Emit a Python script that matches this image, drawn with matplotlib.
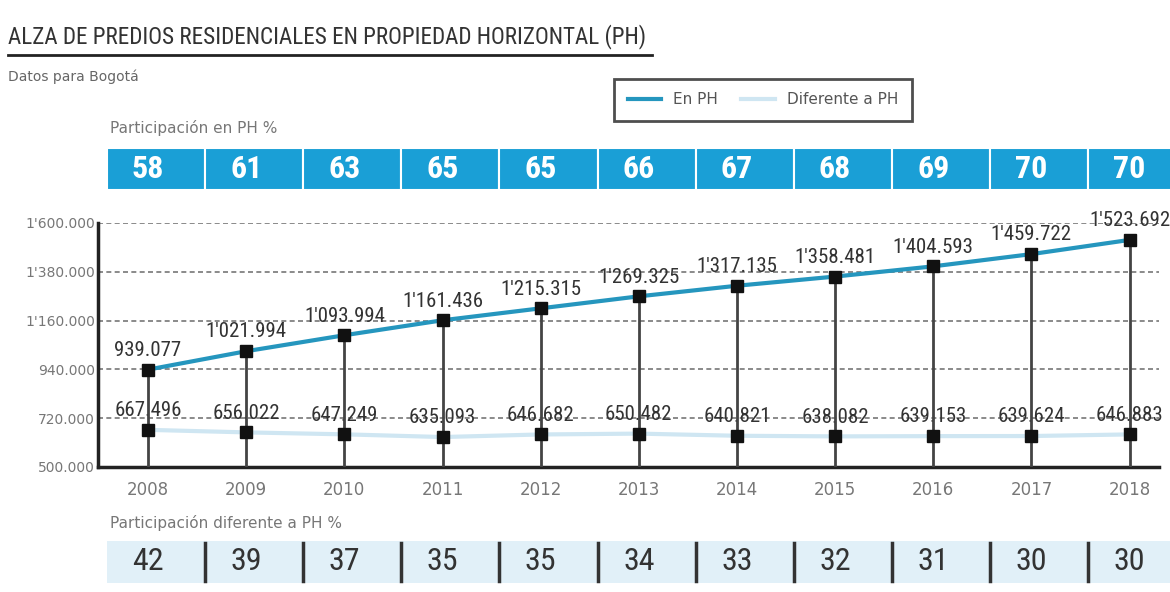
import matplotlib
matplotlib.use('agg')
import matplotlib.pyplot as plt
import matplotlib.transforms as mtransforms
from matplotlib.patches import Rectangle
from matplotlib.lines import Line2D
import numpy as np

years = [2008, 2009, 2010, 2011, 2012, 2013, 2014, 2015, 2016, 2017, 2018]
en_ph = [939077, 1021994, 1093994, 1161436, 1215315, 1269325, 1317135,
         1358481, 1404593, 1459722, 1523692]
dif_ph = [667496, 656022, 647249, 635093, 646682, 650482, 640821,
          638082, 639153, 639624, 646883]
part_ph = [58, 61, 63, 65, 65, 66, 67, 68, 69, 70, 70]
part_dif = [42, 39, 37, 35, 35, 34, 33, 32, 31, 30, 30]
yticks = [500000, 720000, 940000, 1160000, 1380000, 1600000]

NARROW = ['Liberation Sans Narrow', 'Roboto Condensed', 'DejaVu Sans']
BLUE = '#1a9fd6'
LINE_BLUE = '#2596be'
LIGHT = '#cfe6f2'


def fmt(v):
    s = f"{v:,}".replace(',', '.')
    if v >= 1000000:
        i = s.index('.')
        s = s[:i] + "'" + s[i + 1:]
    return s


fig = plt.figure(figsize=(11.7, 5.92), dpi=100)
fig.patch.set_facecolor('white')
ax = fig.add_axes([98 / 1170, 125 / 592, 1061 / 1170, 244 / 592])

ax.set_xlim(2007.49, 2018.3)
ax.set_ylim(500000, 1600000)

for y in yticks[1:]:
    ax.axhline(y, color='#777777', lw=1.2, ls=(0, (3, 2)), zorder=1)

ax.vlines(years, 500000, en_ph, color='#444444', lw=2, zorder=6)
ax.plot(years, dif_ph, color=LIGHT, lw=3, zorder=3)
ax.plot(years, en_ph, color=LINE_BLUE, lw=3, zorder=3)
ax.plot(years, en_ph, 's', color='#111111', ms=9, zorder=7)
ax.plot(years, dif_ph, 's', color='#111111', ms=9, zorder=7)

for x, v in zip(years, en_ph):
    ax.annotate(fmt(v), (x, v), xytext=(0, 7), textcoords='offset points',
                ha='center', va='bottom', fontsize=15, color='#333333',
                family=NARROW, fontstretch='condensed',
                annotation_clip=False, zorder=5)
for x, v in zip(years, dif_ph):
    ax.annotate(fmt(v), (x, v), xytext=(0, 7), textcoords='offset points',
                ha='center', va='bottom', fontsize=15, color='#333333',
                family=NARROW, fontstretch='condensed',
                annotation_clip=False, zorder=5)

for s in ['top', 'right']:
    ax.spines[s].set_visible(False)
ax.spines['left'].set_linewidth(2.5)
ax.spines['bottom'].set_linewidth(2.5)
ax.spines['left'].set_color('#222222')
ax.spines['bottom'].set_color('#222222')

ax.set_yticks(yticks)
ax.set_yticklabels([fmt(v) for v in yticks], fontsize=10, color='#777777')
ax.set_xticks(years)
ax.set_xticklabels([str(y) for y in years], fontsize=12, color='#777777')
ax.tick_params(length=0, pad=10)
ax.tick_params(axis='y', pad=2)

trans = mtransforms.blended_transform_factory(ax.transData, fig.transFigure)
edges = [y - 0.42 for y in years] + [2018.95]
top_y0, top_h = 1 - 190 / 592, 42 / 592
bot_y0, bot_h = 1 - 583 / 592, 42 / 592
for i, x in enumerate(years):
    x0, x1 = edges[i], edges[i + 1]
    fig.add_artist(Rectangle((x0, top_y0), x1 - x0, top_h, transform=trans,
                             facecolor=BLUE, edgecolor='white', lw=1.5))
    fig.text(x, top_y0 + top_h / 2, str(part_ph[i]), transform=trans,
             ha='center', va='center', fontsize=23, fontweight='bold',
             color='white', family=NARROW, fontstretch='condensed')
    fig.add_artist(Rectangle((x0, bot_y0), x1 - x0, bot_h, transform=trans,
                             facecolor='#e1f0f8', edgecolor='none'))
    if i > 0:
        fig.add_artist(Line2D([x0, x0], [bot_y0 + 0.003, bot_y0 + bot_h - 0.003],
                              transform=trans, color='#333333', lw=2.5))
    fig.text(x, bot_y0 + bot_h / 2, str(part_dif[i]), transform=trans,
             ha='center', va='center', fontsize=23, color='#333333',
             family=NARROW, fontstretch='condensed')

fig.text(8 / 1170, 1 - 37 / 592, 'ALZA DE PREDIOS RESIDENCIALES EN PROPIEDAD HORIZONTAL (PH)',
         ha='left', va='center', fontsize=16.7, color='#333333', family=NARROW,
         fontstretch='condensed')
fig.add_artist(Line2D([8 / 1170, 652 / 1170], [1 - 55 / 592, 1 - 55 / 592],
                      transform=fig.transFigure, color='#222222', lw=2))
fig.text(8 / 1170, 1 - 77 / 592, 'Datos para Bogotá', ha='left', va='center',
         fontsize=10, color='#666666')
fig.text(110 / 1170, 1 - 128 / 592, 'Participación en PH %', ha='left',
         va='center', fontsize=11, color='#777777')
fig.text(110 / 1170, 1 - 523 / 592, 'Participación diferente a PH %', ha='left',
         va='center', fontsize=11, color='#777777')

handles = [Line2D([], [], color=LINE_BLUE, lw=3),
           Line2D([], [], color=LIGHT, lw=3)]
leg = fig.legend(handles, ['En PH', 'Diferente a PH'], loc='center',
                 bbox_to_anchor=(763 / 1170, 1 - 100 / 592), ncol=2,
                 fontsize=11, frameon=True, fancybox=False, handlelength=2.2,
                 columnspacing=1.5, borderpad=0.9, labelcolor='#555555')
leg.get_frame().set_edgecolor('#222222')
leg.get_frame().set_linewidth(2)

plt.savefig('out.png', dpi=100)
